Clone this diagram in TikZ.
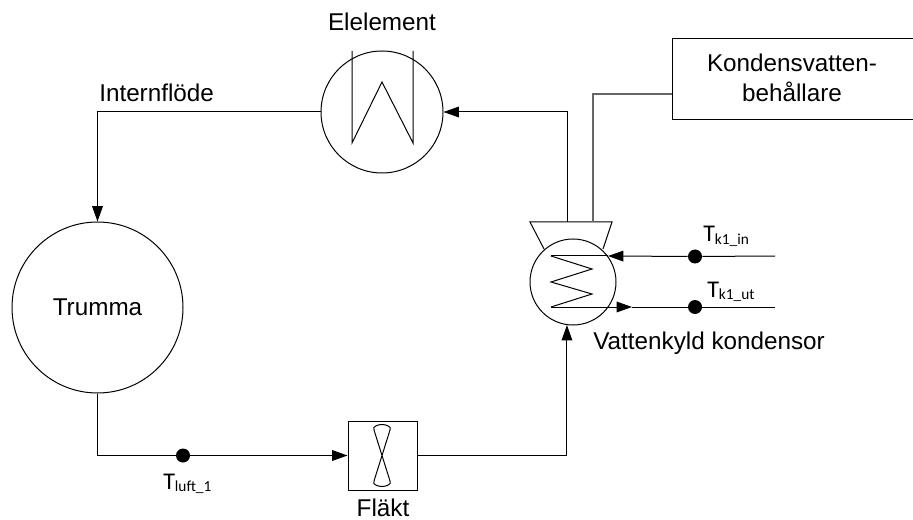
\documentclass[tikz,border=0pt]{standalone}
\usepackage{fontspec}
\setmainfont{Liberation Sans}
\newfontfamily\subfont{Carlito}
\usetikzlibrary{arrows.meta}
\tikzset{
 x=0.75pt,y=-0.75pt,
 wire/.style={line width=0.75pt,black},
 flow/.style={wire,-{Triangle[length=11.5pt,width=8pt]}},
 dot/.style={circle,fill=black,inner sep=0pt,minimum size=10.5pt},
 lab/.style={font=\fontsize{18.2}{22.5}\selectfont,text=black,inner sep=0pt},
 tlab/.style={text=black,inner sep=0pt,anchor=base west},
 unit/.style={circle,draw,line width=0.75pt,inner sep=0pt},
}
\newcommand{\tsub}[1]{{\subfont\fontsize{18}{20}\selectfont T\raisebox{-2pt}{\fontsize{11.5}{12}\selectfont #1}}}
\begin{document}
\begin{tikzpicture}
\useasboundingbox (0,0) rectangle (913,520);
\clip (0,0) rectangle (913,520);
\node[unit,minimum size=91.5pt] (elem) at (382,112) {};
\node[unit,minimum size=64.5pt] (kond) at (573,282) {};
\node[unit,minimum size=128.25pt] (trumma) at (97.5,307.5) {};
\node[draw,line width=0.75pt,minimum width=51.75pt,minimum height=51.75pt,inner sep=0pt] (fan) at (382.5,455.5) {};
\node[draw,line width=0.75pt,minimum width=182.25pt,minimum height=60.75pt,inner sep=0pt] (box) at (793.5,79.5) {};
% hood
\coordinate (hl) at (530,222); \coordinate (hr) at (612,222);
\draw[wire] (544,249) -- (hl) -- (hr) -- (603,249);
% element coil
\draw[wire] (352,51) -- (352,143) -- (382,82) -- (413,143) -- (413,51);
% condenser coil
\coordinate (c1) at (551,256); \coordinate (c5) at (551,307);
\draw[wire] (c1) -- (592,269) -- (551,282) -- (592,294) -- (c5);
% fan blades
\draw[wire] (374,430) -- (390,481) .. controls (392,485) and (385,486.5) .. (382,486.5) .. controls (379,486.5) and (372,485) .. (374,481) -- (390,430) .. controls (392,426) and (385,424.5) .. (382,424.5) .. controls (379,424.5) and (372,426) .. (374,430) -- cycle;
% dots
\node[dot] (dluft) at (183,455.5) {};
\node[dot] (dkin) at (695,256.5) {};
\node[dot] (dkut) at (695,307) {};
\coordinate (kinend) at (775,256);
\coordinate (kutend) at (775,307);
% connectors
\draw[flow] (trumma.south) |- (fan.west);
\draw[flow] (fan.east) -| (kond.262);
\draw[flow] (567,222) |- (elem.east);
\draw[line width=1pt,black!60] (593,222) |- (box.west |- 0,94);
\draw[flow] (elem.west) -| (trumma.north);
\draw[wire] (kinend) -- (dkin);
\draw[flow] (dkin) -- (608,256);
\draw[wire] (608,256) -- (c1);
\draw[flow] (c5) -- (632,307);
\draw[wire] (632,307) -- (kutend);
% labels
\node[lab,anchor=base] at (382,31) {Elelement};
\node[lab,anchor=base west] at (99,102) {Internflöde};
\node[lab,anchor=base] at (97.5,315) {Trumma};
\node[lab,anchor=base] at (383,516) {Fläkt};
\node[lab,anchor=base] at (792,72) {Kondensvatten-};
\node[lab,anchor=base] at (792,102) {behållare};
\node[lab,anchor=base west] at (593,349) {Vattenkyld kondensor};
\node[tlab] at (703,242) {\tsub{k1\_in}};
\node[tlab] at (707,297) {\tsub{k1\_ut}};
\node[tlab] at (163,489) {\tsub{luft\_1}};
\end{tikzpicture}
\end{document}
